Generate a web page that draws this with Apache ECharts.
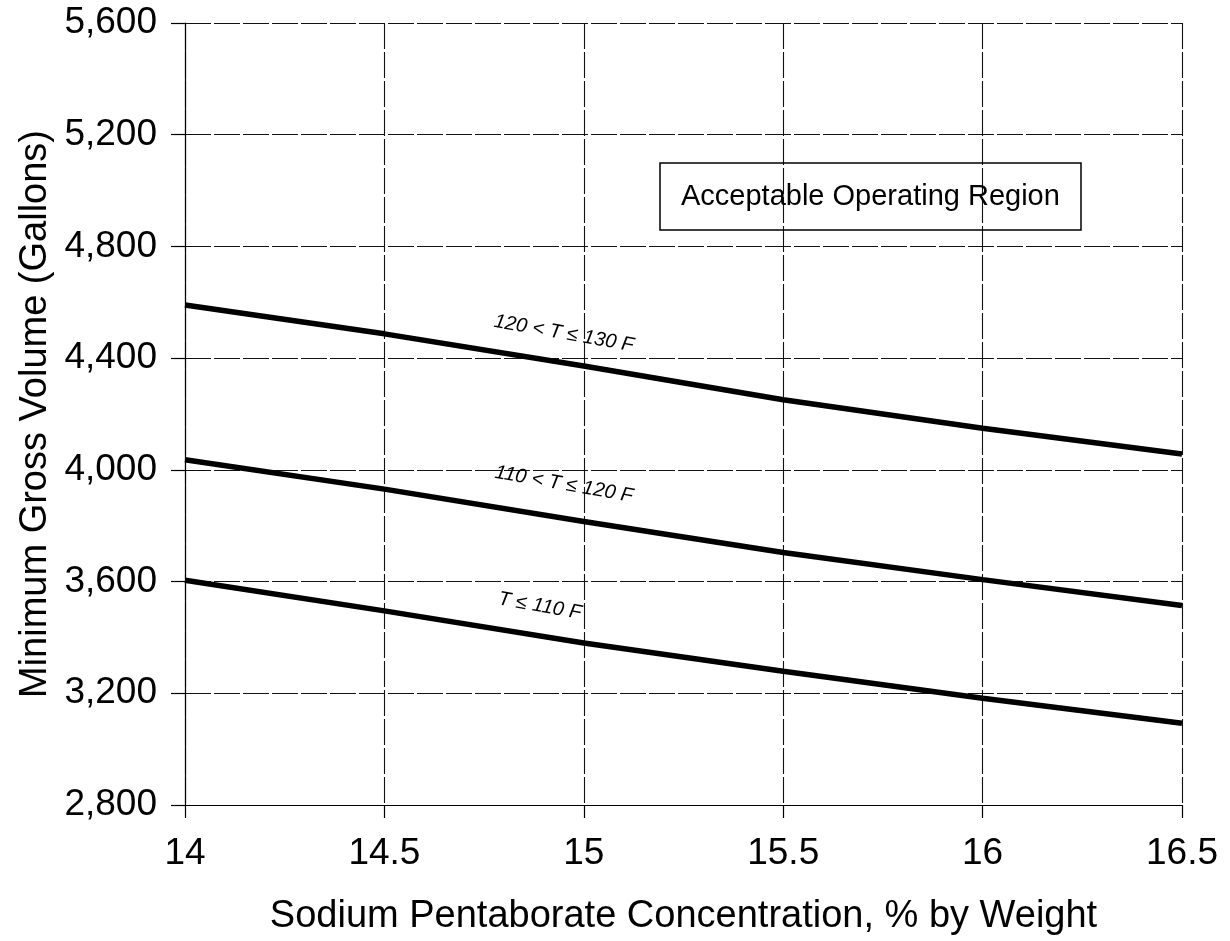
<!DOCTYPE html>
<html>
<head>
<meta charset="utf-8">
<script src="https://cdn.jsdelivr.net/npm/echarts@6/dist/echarts.min.js"></script>
<style>html,body{margin:0;padding:0;background:#fff}#c{width:1230px;height:941px}</style>
</head>
<body>
<div id="c"></div>
<script>
// Data
const concentration = [14, 14.5, 15, 15.5, 16, 16.5];
const volT120to130 = [4590, 4487, 4372, 4251, 4149, 4057];
const volT110to120 = [4036, 3931, 3815, 3704, 3607, 3514];
const volTle110   = [3605, 3495, 3380, 3279, 3182, 3093];
const xTickLabels = ['14', '14.5', '15', '15.5', '16', '16.5'];
const yTickLabels = ['2,800', '3,200', '3,600', '4,000', '4,400', '4,800', '5,200', '5,600'];
const seriesNames = ['120 < T ≤ 130 F', '110 < T ≤ 120 F', 'T ≤ 110 F'];
const labelAnchors = [[14.95, 4488], [14.95, 3948], [14.89, 3512]];

const FONT = 'Liberation Sans, Arial, Helvetica, sans-serif';
const chart = echarts.init(document.getElementById('c'), null, {renderer: 'canvas'});

function mkSeries(name, vals, anchor) {
  return {
    name: name,
    type: 'line',
    data: concentration.map((x, i) => [x, vals[i]]),
    symbol: 'none',
    lineStyle: {color: '#000', width: 5.5},
    silent: true,
    markPoint: {
      symbol: 'circle', symbolSize: 0,
      label: {
        show: true, formatter: name, rotate: -10,
        fontStyle: 'italic', fontSize: 20, color: '#000', fontFamily: FONT
      },
      data: [{coord: anchor}]
    }
  };
}

const yStep = 400, yMin = 2800, yMax = 5600;
chart.setOption({
  animation: false,
  backgroundColor: '#fff',
  title: {
    text: 'Acceptable Operating Region',
    left: 660, top: 163,
    padding: [19, 21],
    borderColor: '#000', borderWidth: 1.5,
    textStyle: {fontFamily: FONT, fontSize: 29, fontWeight: 'normal', color: '#000'}
  },
  grid: {left: 185, right: 48, top: 23, bottom: 136, containLabel: false},
  xAxis: {
    type: 'value', min: 14, max: 16.5, interval: 0.5,
    name: 'Sodium Pentaborate Concentration, % by Weight',
    nameLocation: 'middle', nameGap: 93, nameMoveOverlap: false,
    nameTextStyle: {fontFamily: FONT, fontSize: 38, color: '#000'},
    axisLine: {show: true, lineStyle: {color: '#000', width: 1.2}},
    axisTick: {show: true, inside: false, length: 13, lineStyle: {color: '#000', width: 1.2}},
    axisLabel: {
      margin: 30, fontFamily: FONT, fontSize: 37, color: '#000',
      formatter: v => xTickLabels[Math.round((v - 14) / 0.5)]
    },
    splitLine: {show: true, lineStyle: {color: '#111', width: 1.1, type: [26, 3]}}
  },
  yAxis: {
    type: 'value', min: yMin, max: yMax, interval: yStep,
    name: 'Minimum Gross Volume (Gallons)',
    nameLocation: 'middle', nameGap: 130, nameRotate: 90, nameMoveOverlap: false,
    nameTextStyle: {fontFamily: FONT, fontSize: 38, color: '#000'},
    axisLine: {show: true, lineStyle: {color: '#000', width: 1.2}},
    axisTick: {show: true, inside: false, length: 14, lineStyle: {color: '#000', width: 1.2}},
    axisLabel: {
      margin: 28, fontFamily: FONT, fontSize: 37, color: '#000',
      formatter: v => yTickLabels[Math.round((v - yMin) / yStep)]
    },
    splitLine: {show: true, lineStyle: {color: '#111', width: 1.1, type: [26, 3]}}
  },
  series: [
    mkSeries(seriesNames[0], volT120to130, labelAnchors[0]),
    mkSeries(seriesNames[1], volT110to120, labelAnchors[1]),
    mkSeries(seriesNames[2], volTle110, labelAnchors[2])
  ]
});
</script>
</body>
</html>
